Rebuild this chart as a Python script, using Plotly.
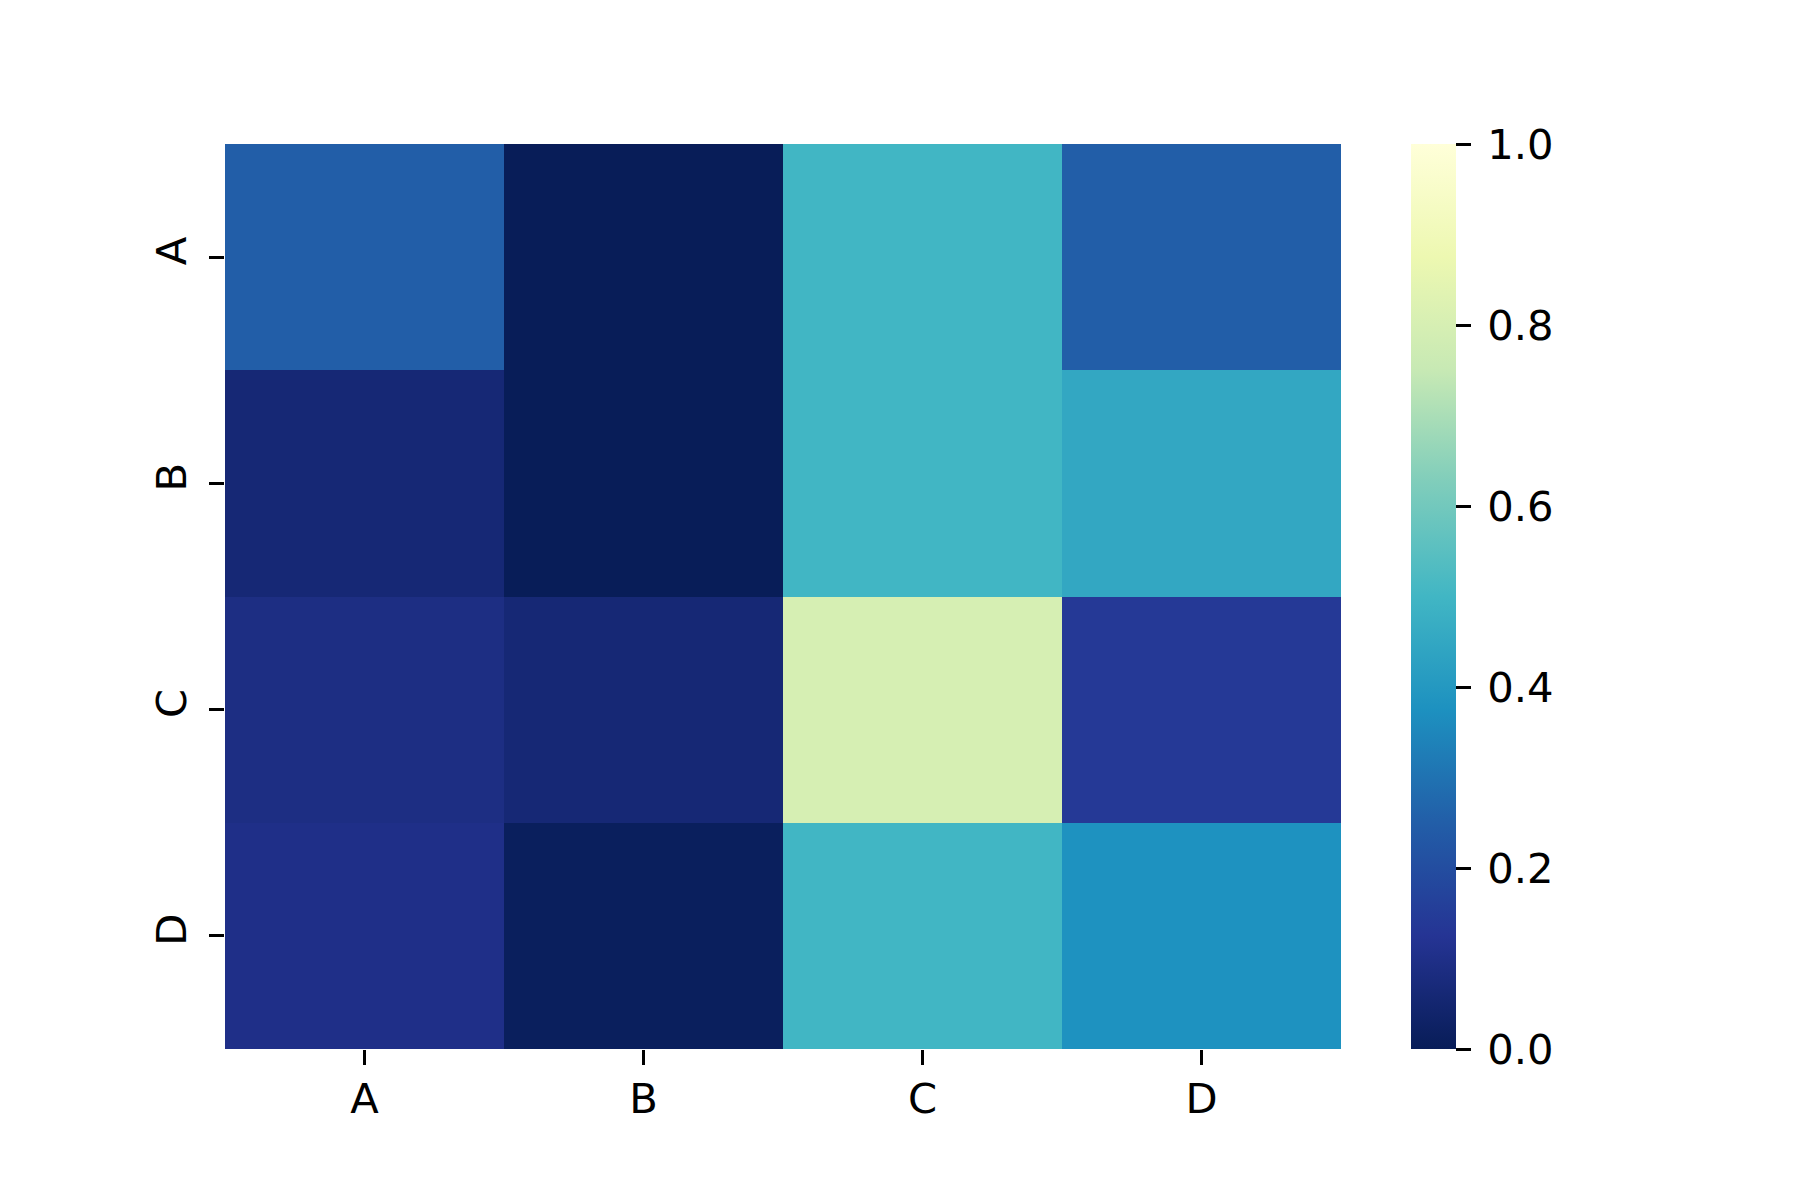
import plotly.graph_objects as go

# row / column labels
rows = ["A", "B", "C", "D"]
cols = ["A", "B", "C", "D"]

# cell values, one list per row (top to bottom)
row_a = [0.25, 0.00, 0.50, 0.25]
row_b = [0.06, 0.00, 0.50, 0.45]
row_c = [0.09, 0.06, 0.80, 0.14]
row_d = [0.10, 0.01, 0.50, 0.38]

cbar_ticks = [0.0, 0.2, 0.4, 0.6, 0.8, 1.0]

# matplotlib YlGnBu, reversed (dark at 0)
ylgnbu = ["#ffffd9", "#edf8b1", "#c7e9b4", "#7fcdbb", "#41b6c4",
          "#1d91c0", "#225ea8", "#253494", "#081d58"]
ylgnbu_r = ylgnbu[::-1]
colorscale = [[i / (len(ylgnbu_r) - 1), c] for i, c in enumerate(ylgnbu_r)]

W, H = 1800, 1200
# page body has an 8px margin, so shift the figure box back by 8
left, right, top, bottom = 217, 1333, 135.5, 1041
FONT = 41.7

fig = go.Figure(go.Heatmap(
    z=[row_a, row_b, row_c, row_d],
    x=cols,
    y=rows,
    zmin=0, zmax=1,
    colorscale=colorscale,
    xgap=0, ygap=0,
    colorbar=dict(
        x=(1403 - left) / (right - left),
        xanchor="left",
        xpad=0, ypad=0,
        thickness=45,
        len=1, lenmode="fraction",
        y=0.5, yanchor="middle",
        outlinewidth=0,
        tickvals=cbar_ticks,
        ticktext=["\u2009" + f"{v:.1f}" for v in cbar_ticks],
        ticks="outside",
        ticklen=15,
        tickwidth=3.3,
        tickcolor="black",
        tickfont=dict(size=FONT, color="black"),
    ),
))

fig.update_xaxes(
    showgrid=False, zeroline=False, showline=False,
    ticks="outside", ticklen=15, tickwidth=3.3, tickcolor="black",
    ticklabelstandoff=-2,
    tickfont=dict(size=FONT, color="black"),
)
fig.update_yaxes(
    autorange="reversed",
    showgrid=False, zeroline=False, showline=False,
    ticks="outside", ticklen=15, tickwidth=3.3, tickcolor="black",
    tickangle=-90,
    ticklabelstandoff=6,
    tickfont=dict(size=FONT, color="black"),
)

fig.update_layout(
    width=W, height=H,
    margin=dict(l=left, r=W - right, t=top, b=H - bottom, pad=0),
    paper_bgcolor="white",
    plot_bgcolor="white",
    font=dict(family="DejaVu Sans", color="black"),
)

fig.write_html("out.html")
